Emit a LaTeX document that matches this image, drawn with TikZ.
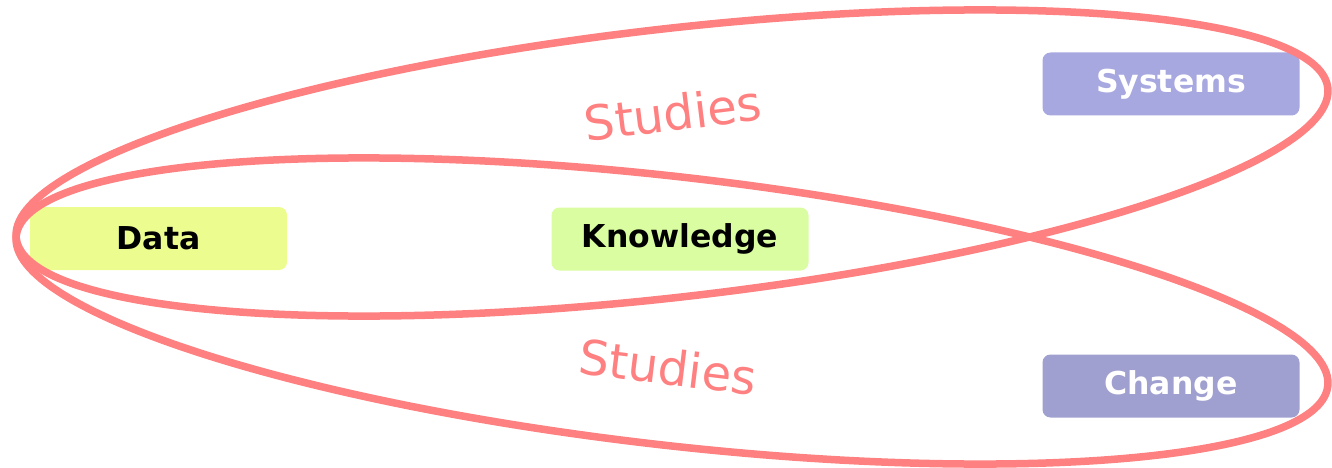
\documentclass[tikz,border=0pt]{standalone}
\usepackage{fontspec}
\setmainfont{DejaVu Sans}
\definecolor{ringred}{HTML}{FF8080}
\definecolor{datafill}{HTML}{EDFC8F}
\definecolor{knowfill}{HTML}{D9FDA0}
\definecolor{sysfill}{HTML}{A8A8E0}
\definecolor{chgfill}{HTML}{A0A0D0}
\begin{document}
\begin{tikzpicture}[x=1pt,y=1pt,
  box/.style={rounded corners=8pt, minimum width=257pt, minimum height=63pt, inner sep=0pt,
    font=\fontsize{31.5}{36}\selectfont\bfseries},
  ring/.style={draw=ringred, line width=7.5pt},
  studies/.style={text=ringred, font=\fontsize{48}{54}\selectfont, inner sep=0pt}]
\useasboundingbox (0,0) rectangle (1332,-468);
\node[box, fill=datafill, text=black] (data) at (158.5,-238.5) {Data};
\node[box, fill=knowfill, text=black] (know) at (680,-239) {Knowledge};
\node[box, fill=sysfill, text=white] (sys) at (1171,-84) {Systems};
\node[box, fill=chgfill, text=white] (chg) at (1171,-386) {Change};
\draw[ring, rotate around={6.535:(672,-163)}] (672,-163) ellipse [x radius=660.1pt, y radius=134.2pt];
\draw[ring, rotate around={-6.535:(672,-311)}] (672,-311) ellipse [x radius=660.1pt, y radius=134.2pt];
\node[studies, rotate=7] (s1) at (673,-113) {Studies};
\node[studies, rotate=-7] (s2) at (668,-367) {Studies};
\end{tikzpicture}
\end{document}
